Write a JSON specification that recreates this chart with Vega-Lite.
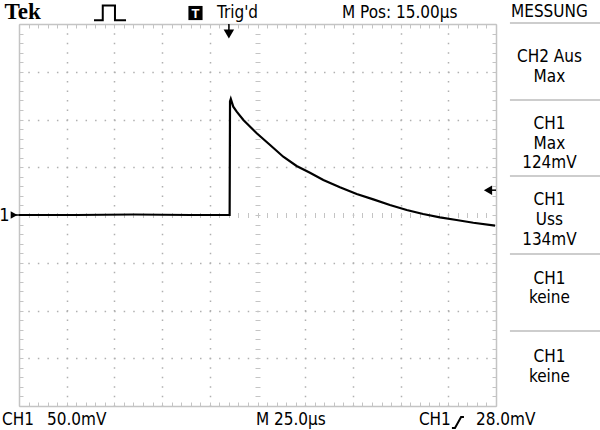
{
  "$schema": "https://vega.github.io/schema/vega-lite/v6.json",
  "width": 477,
  "height": 382,
  "autosize": {"type": "none"},
  "padding": {"left": 19, "top": 24, "right": 104, "bottom": 24},
  "background": "white",
  "config": {
    "view": {"stroke": null},
    "text": {"font": "Liberation Sans Narrow, DejaVu Sans Condensed, Liberation Sans, sans-serif", "fontSize": 17, "color": "black"}
  },
  "datasets": {
    "trace": [
      {"t": -110, "v": 0}, {"t": -80, "v": 0}, {"t": -50, "v": 0.5}, {"t": -20, "v": 0},
      {"t": 0.4, "v": 0}, {"t": 0.6, "v": 119}, {"t": 1.0, "v": 121.5}, {"t": 2.3, "v": 113.4},
      {"t": 4.1, "v": 108.2}, {"t": 7.6, "v": 99.5}, {"t": 14.6, "v": 85.6}, {"t": 21.6, "v": 73.3},
      {"t": 28.5, "v": 61.0}, {"t": 35.5, "v": 51.3}, {"t": 42.5, "v": 44.3}, {"t": 49.5, "v": 36.6},
      {"t": 58.2, "v": 29.0}, {"t": 67.0, "v": 22.0}, {"t": 75.7, "v": 16.4}, {"t": 84.4, "v": 10.5},
      {"t": 93.2, "v": 5.2}, {"t": 101.8, "v": 1.0}, {"t": 110.6, "v": -2.4}, {"t": 119.3, "v": -5.2},
      {"t": 128.1, "v": -8.1}, {"t": 139.5, "v": -11.2}
    ],
    "status": [
      {"text": "Trig'd", "t": -6.2, "v": 206.5},
      {"text": "M Pos: 15.00µs", "t": 59.3, "v": 206.5},
      {"text": "CH1", "t": -118.9, "v": -220},
      {"text": "50.0mV", "t": -95.3, "v": -220},
      {"text": "M 25.0µs", "t": 14.2, "v": -220},
      {"text": "CH1", "t": 99.6, "v": -220},
      {"text": "28.0mV", "t": 129.5, "v": -220}
    ],
    "panel": [
      {"text": "MESSUNG", "t": 168, "v": 207},
      {"text": "CH2 Aus", "t": 168, "v": 160.5},
      {"text": "Max", "t": 168, "v": 139},
      {"text": "CH1", "t": 168, "v": 90},
      {"text": "Max", "t": 168, "v": 69.1},
      {"text": "124mV", "t": 168, "v": 48.9},
      {"text": "CH1", "t": 168, "v": 10.5},
      {"text": "Uss", "t": 168, "v": -10.5},
      {"text": "134mV", "t": 168, "v": -31.4},
      {"text": "CH1", "t": 168, "v": -72.3},
      {"text": "keine", "t": 168, "v": -92.5},
      {"text": "CH1", "t": 168, "v": -154.2},
      {"text": "keine", "t": 168, "v": -174.5}
    ],
    "glyphs": [
      {"g": "pulse", "i": 1, "t": -70.7, "v": 203.9},
      {"g": "pulse", "i": 2, "t": -66.1, "v": 203.9},
      {"g": "pulse", "i": 3, "t": -66.1, "v": 219.5},
      {"g": "pulse", "i": 4, "t": -59.7, "v": 219.5},
      {"g": "pulse", "i": 5, "t": -59.7, "v": 203.9},
      {"g": "pulse", "i": 6, "t": -53.9, "v": 203.9},
      {"g": "slope", "i": 1, "t": 116.9, "v": -223},
      {"g": "slope", "i": 2, "t": 118.5, "v": -223},
      {"g": "slope", "i": 3, "t": 121.7, "v": -211.5},
      {"g": "slope", "i": 4, "t": 123.2, "v": -211.5}
    ],
    "separators": [
      {"v": 201}, {"v": 120.4}, {"v": 40.8}, {"v": -40.8}, {"v": -121.5}
    ]
  },
  "layer": [
    {
      "data": {"name": "trace"},
      "mark": {"type": "line", "color": "black", "strokeWidth": 2.2},
      "encoding": {
        "x": {
          "field": "t", "type": "quantitative",
          "scale": {"domain": [-110, 140], "nice": false, "zero": false},
          "axis": {
            "orient": "bottom", "title": null, "labels": false, "grid": false,
            "domain": true, "domainColor": "#c4c4c4", "domainWidth": 1.5,
            "ticks": true, "tickSize": -4, "tickColor": "#c4c4c4", "tickWidth": 1,
            "values": [-110,-105,-100,-95,-90,-85,-80,-75,-70,-65,-60,-55,-50,-45,-40,-35,-30,-25,-20,-15,-10,-5,0,5,10,15,20,25,30,35,40,45,50,55,60,65,70,75,80,85,90,95,100,105,110,115,120,125,130,135,140]
          }
        },
        "y": {
          "field": "v", "type": "quantitative",
          "scale": {"domain": [-200, 200], "nice": false, "zero": false},
          "axis": {
            "orient": "left", "title": null, "labels": false, "grid": false,
            "domain": true, "domainColor": "#c4c4c4", "domainWidth": 1.5,
            "ticks": true, "tickSize": -4, "tickColor": "#c4c4c4", "tickWidth": 1,
            "values": [-200,-190,-180,-170,-160,-150,-140,-130,-120,-110,-100,-90,-80,-70,-60,-50,-40,-30,-20,-10,0,10,20,30,40,50,60,70,80,90,100,110,120,130,140,150,160,170,180,190,200]
          }
        }
      }
    },
    {
      "data": {"name": "glyphs"},
      "mark": {"type": "line", "color": "black", "strokeWidth": 2},
      "encoding": {
        "x": {
          "field": "t", "type": "quantitative",
          "axis": {
            "orient": "top", "title": null, "labels": false, "grid": false,
            "domain": true, "domainColor": "#c4c4c4", "domainWidth": 1.5,
            "ticks": true, "tickSize": -4, "tickColor": "#c4c4c4", "tickWidth": 1,
            "values": [-110,-105,-100,-95,-90,-85,-80,-75,-70,-65,-60,-55,-50,-45,-40,-35,-30,-25,-20,-15,-10,-5,0,5,10,15,20,25,30,35,40,45,50,55,60,65,70,75,80,85,90,95,100,105,110,115,120,125,130,135,140]
          }
        },
        "y": {
          "field": "v", "type": "quantitative",
          "axis": {
            "orient": "right", "title": null, "labels": false, "grid": false,
            "domain": true, "domainColor": "#c4c4c4", "domainWidth": 1.5,
            "ticks": true, "tickSize": -4, "tickColor": "#c4c4c4", "tickWidth": 1,
            "values": [-200,-190,-180,-170,-160,-150,-140,-130,-120,-110,-100,-90,-80,-70,-60,-50,-40,-30,-20,-10,0,10,20,30,40,50,60,70,80,90,100,110,120,130,140,150,160,170,180,190,200]
          }
        },
        "detail": {"field": "g"},
        "order": {"field": "i"}
      }
    },
    {
      "data": {"name": "status"},
      "mark": {"type": "text", "align": "left", "baseline": "alphabetic"},
      "encoding": {
        "x": {
          "field": "t", "type": "quantitative",
          "axis": {
            "orient": "bottom", "title": null, "labels": false, "ticks": false, "domain": false,
            "grid": true, "gridColor": "#b0b0b0", "gridWidth": 1.5, "gridDash": [1.5, 8.04], "gridDashOffset": 0.75,
            "values": [-85, -60, -35, -10, 40, 65, 90, 115]
          }
        },
        "y": {
          "field": "v", "type": "quantitative",
          "axis": {
            "orient": "left", "title": null, "labels": false, "ticks": false, "domain": false,
            "grid": true, "gridColor": "#b0b0b0", "gridWidth": 1.5, "gridDash": [1.5, 8.04], "gridDashOffset": 0.75,
            "values": [-150, -100, -50, 50, 100, 150]
          }
        },
        "text": {"field": "text"}
      }
    },
    {
      "data": {"name": "panel"},
      "mark": {"type": "text", "align": "center", "baseline": "alphabetic"},
      "encoding": {
        "x": {
          "field": "t", "type": "quantitative",
          "axis": {
            "orient": "bottom", "offset": -193.5, "title": null, "labels": false, "grid": false, "domain": false,
            "ticks": true, "tickSize": 5, "tickColor": "#c4c4c4", "tickWidth": 1,
            "values": [-105,-100,-95,-90,-85,-80,-75,-70,-65,-60,-55,-50,-45,-40,-35,-30,-25,-20,-15,-10,-5,0,5,10,15,20,25,30,35,40,45,50,55,60,65,70,75,80,85,90,95,100,105,110,115,120,125,130,135]
          }
        },
        "y": {
          "field": "v", "type": "quantitative",
          "axis": {
            "orient": "left", "offset": -241, "title": null, "labels": false, "grid": false, "domain": false,
            "ticks": true, "tickSize": 5, "tickColor": "#c4c4c4", "tickWidth": 1,
            "values": [-190,-180,-170,-160,-150,-140,-130,-120,-110,-100,-90,-80,-70,-60,-50,-40,-30,-20,-10,0,10,20,30,40,50,60,70,80,90,100,110,120,130,140,150,160,170,180,190]
          }
        },
        "text": {"field": "text"}
      }
    },
    {
      "data": {"name": "separators"},
      "mark": {"type": "rule", "color": "#bdbdbd", "strokeWidth": 1.5},
      "encoding": {
        "x": {"datum": 147.3, "type": "quantitative", "axis": null},
        "x2": {"datum": 196},
        "y": {"field": "v", "type": "quantitative", "axis": null}
      }
    },
    {
      "data": {"values": [{"text": "Tek"}]},
      "mark": {"type": "text", "align": "left", "baseline": "alphabetic", "font": "Liberation Serif, DejaVu Serif, serif", "fontWeight": "bold", "fontSize": 23},
      "encoding": {
        "x": {"datum": -117.6, "type": "quantitative", "axis": null},
        "y": {"datum": 205.5, "type": "quantitative", "axis": null},
        "text": {"field": "text"}
      }
    },
    {
      "data": {"values": [{"flag": "T"}]},
      "layer": [
        {
          "mark": {"type": "point", "shape": "square", "filled": true, "color": "black", "opacity": 1, "size": 200},
          "encoding": {
            "x": {"datum": -17.5, "type": "quantitative", "axis": null},
            "y": {"datum": 211.5, "type": "quantitative", "axis": null}
          }
        },
        {
          "mark": {"type": "text", "align": "center", "baseline": "middle", "color": "white", "fontWeight": "bold", "fontSize": 13, "font": "Liberation Sans, sans-serif", "dy": 0.5},
          "encoding": {
            "x": {"datum": -17.5, "type": "quantitative", "axis": null},
            "y": {"datum": 211.5, "type": "quantitative", "axis": null},
            "text": {"field": "flag"}
          }
        }
      ]
    },
    {
      "data": {"values": [{"label": "trigger"}]},
      "layer": [
        {
          "mark": {"type": "rule", "color": "black", "strokeWidth": 1.5},
          "encoding": {
            "x": {"datum": 0, "type": "quantitative", "axis": null},
            "y": {"datum": 200, "type": "quantitative", "axis": null},
            "y2": {"datum": 192}
          }
        },
        {
          "mark": {"type": "point", "shape": "triangle-down", "filled": true, "color": "black", "opacity": 1, "size": 110},
          "encoding": {
            "x": {"datum": 0, "type": "quantitative", "axis": null},
            "y": {"datum": 189.5, "type": "quantitative", "axis": null}
          }
        },
        {
          "mark": {"type": "rule", "color": "black", "strokeWidth": 1.5},
          "encoding": {
            "x": {"datum": 136.3, "type": "quantitative", "axis": null},
            "x2": {"datum": 140},
            "y": {"datum": 26, "type": "quantitative", "axis": null}
          }
        },
        {
          "mark": {"type": "point", "shape": "triangle-left", "filled": true, "color": "black", "opacity": 1, "size": 90},
          "encoding": {
            "x": {"datum": 135.8, "type": "quantitative", "axis": null},
            "y": {"datum": 26, "type": "quantitative", "axis": null}
          }
        },
        {
          "mark": {"type": "rule", "color": "black", "strokeWidth": 1.5},
          "encoding": {
            "x": {"datum": -112.6, "type": "quantitative", "axis": null},
            "x2": {"datum": -110},
            "y": {"datum": 0, "type": "quantitative", "axis": null}
          }
        },
        {
          "mark": {"type": "point", "shape": "triangle-right", "filled": true, "color": "black", "opacity": 1, "size": 60},
          "encoding": {
            "x": {"datum": -112.6, "type": "quantitative", "axis": null},
            "y": {"datum": 0, "type": "quantitative", "axis": null}
          }
        },
        {
          "mark": {"type": "text", "align": "center", "baseline": "alphabetic", "text": "1", "fontSize": 18},
          "encoding": {
            "x": {"datum": -117.6, "type": "quantitative", "axis": null},
            "y": {"datum": -6.8, "type": "quantitative", "axis": null}
          }
        }
      ]
    }
  ],
  "resolve": {"axis": {"x": "independent", "y": "independent"}}
}
